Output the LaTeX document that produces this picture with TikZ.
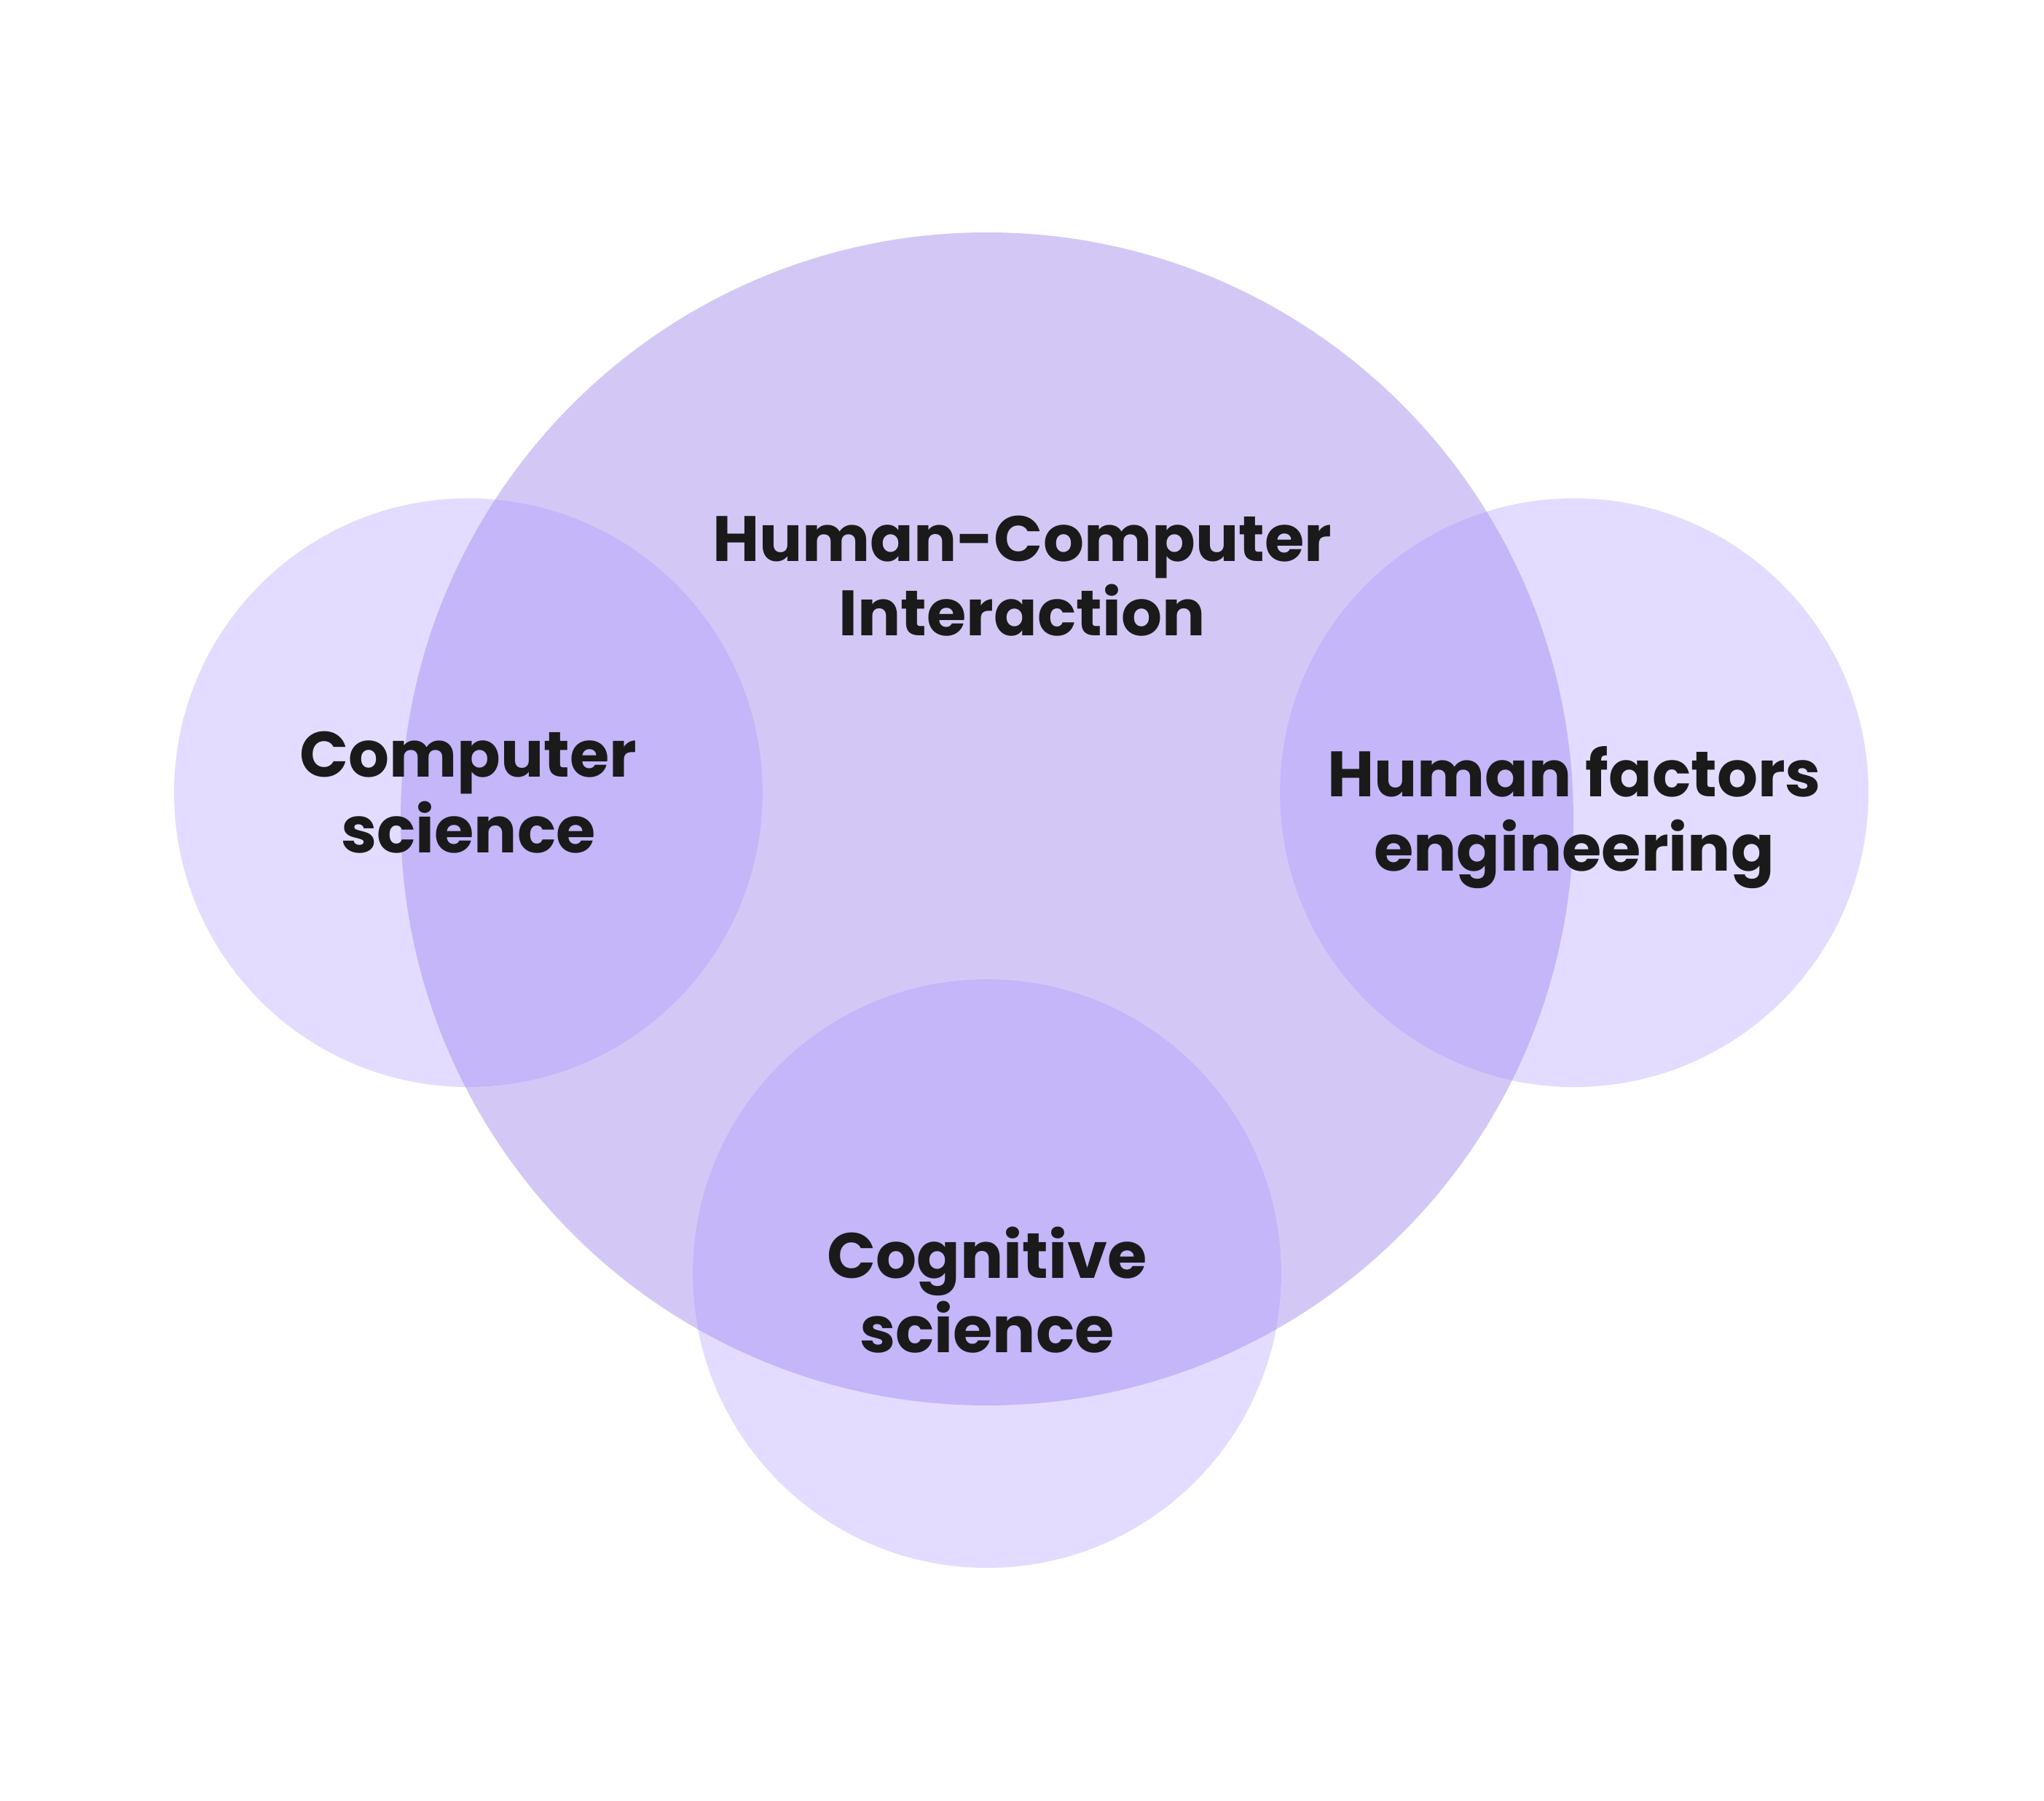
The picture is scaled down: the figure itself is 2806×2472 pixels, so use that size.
\documentclass[tikz,border=0pt]{standalone}
\usepackage{fontspec}
\setmainfont{Poppins}
\definecolor{bigc}{HTML}{D3C8F5}
\definecolor{smallc}{HTML}{E3DCFE}
\definecolor{overc}{HTML}{C4B6F9}
\definecolor{txt}{HTML}{1A1A1A}
\begin{document}
\begin{tikzpicture}[x=1pt,y=-1pt,
  lbl/.style={anchor=base,inner sep=0pt,text=txt,font=\fontsize{88}{100}\selectfont\bfseries}]
\useasboundingbox (0,0) rectangle (2806,2472);
\fill[white] (0,0) rectangle (2806,2472);
\coordinate (cb) at (1355,1124);
\coordinate (cl) at (643,1088);
\coordinate (cr) at (2161,1088);
\coordinate (cd) at (1355,1748);
\fill[bigc] (cb) circle (805pt);
\fill[smallc] (cl) circle (404pt);
\fill[smallc] (cr) circle (404pt);
\fill[smallc] (cd) circle (404pt);
\begin{scope}
\clip (cb) circle (805pt);
\fill[overc] (cl) circle (404pt);
\fill[overc] (cr) circle (404pt);
\fill[overc] (cd) circle (404pt);
\end{scope}
\node[lbl] (h1) at (1403,770) {Human-Computer};
\node[lbl] (h2) at (1403,872) {Interaction};
\node[lbl] (c1) at (643,1066) {Computer};
\node[lbl] (c2) at (643,1170) {science};
\node[lbl] (f1) at (2161,1093) {Human factors};
\node[lbl] (f2) at (2161,1195) {engineering};
\node[lbl] (g1) at (1355,1754) {Cognitive};
\node[lbl] (g2) at (1355,1856) {science};
\end{tikzpicture}
\end{document}
